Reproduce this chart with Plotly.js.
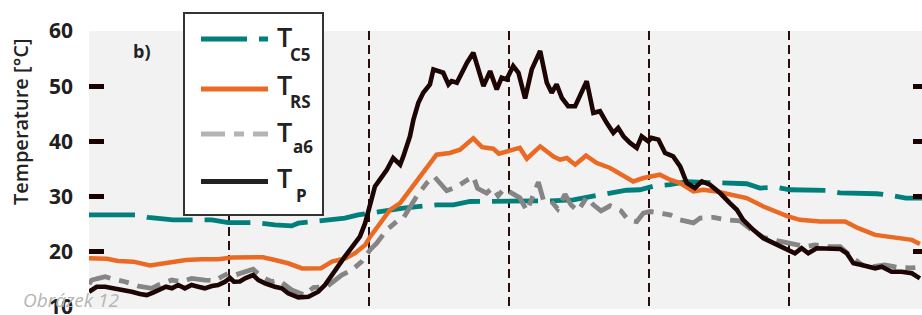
<!DOCTYPE html>
<html><head><meta charset="utf-8">
<script src="https://cdn.plot.ly/plotly-3.0.1.min.js"></script>
<style>html,body{margin:0;padding:0;background:#fff;overflow:hidden;}#chart{width:922px;height:315px;}</style>
</head><body><div id="chart"></div>
<script>
// time in hours, temperature in °C
const tpX = [0,0.22,0.46,0.69,0.93,1.22,1.46,1.65,1.83,2.03,2.2,2.37,2.55,2.74,2.93,3.12,3.31,3.51,3.69,3.89,4.03,4.14,4.31,4.46,4.69,4.84,5.03,5.31,5.51,5.69,5.98,6.27,6.55,6.74,7.03,7.31,7.6,7.74,7.89,8.03,8.17,8.31,8.51,8.69,8.89,8.98,9.17,9.27,9.41,9.55,9.74,9.84,9.98,10.12,10.27,10.36,10.51,10.69,10.8,10.98,11.09,11.27,11.46,11.65,11.79,11.93,12.12,12.27,12.46,12.65,12.89,13.08,13.22,13.36,13.51,13.69,13.89,14.03,14.22,14.41,14.6,14.79,14.98,15.12,15.27,15.46,15.65,15.79,15.98,16.07,16.27,16.46,16.69,16.89,17.08,17.31,17.51,17.74,18.03,18.31,18.51,18.69,18.98,19.27,19.65,19.93,20.17,20.36,20.55,20.79,21.08,21.46,21.65,21.84,22.08,22.27,22.46,22.65,22.93,23.22,23.51,23.74];
const tpY = [12.73,13.64,13.64,13.4,13.04,12.73,12.31,12.13,12.58,13.22,13.64,13.35,13.95,13.35,13.95,13.64,13.35,13.76,13.95,14.55,15.22,14.55,14.58,15.16,15.76,14.85,14.25,13.64,13.35,12.44,11.71,11.82,12.73,13.95,16.67,19.09,21.53,22.73,25.16,28.18,31.82,33.04,34.85,36.98,35.76,37.27,40.91,43.95,46.98,48.8,50.31,53.04,52.73,52.44,50.31,50.91,50.62,53.04,54.25,56.07,53.64,50.0,52.73,49.4,51.53,51.22,53.64,52.44,47.76,53.04,56.36,50.62,48.8,50.31,47.89,46.36,46.36,48.18,50.91,45.16,45.45,43.35,41.53,42.44,40.91,39.71,38.8,40.91,40.0,40.62,40.31,37.89,37.27,35.45,32.44,31.53,32.73,32.13,30.62,28.8,27.58,25.76,23.95,22.44,21.22,20.31,19.71,20.62,19.71,20.62,20.62,20.49,19.71,17.89,17.58,17.27,16.98,17.27,16.36,16.36,16.07,15.16];

const trsX = [0,0.51,0.83,1.27,1.74,2.03,2.37,2.77,3.23,3.69,4.09,4.97,5.31,5.69,6.09,6.63,6.94,7.34,7.6,7.89,8.03,8.31,8.6,8.89,9.17,9.46,9.74,9.93,10.31,10.6,10.98,11.23,11.55,11.71,12.12,12.31,12.51,12.89,13.27,13.46,13.65,13.89,14.2,14.51,14.89,15.27,15.55,15.84,16.12,16.31,16.6,16.89,17.27,17.55,17.93,18.31,18.79,19.27,19.93,20.31,20.89,21.6,21.98,22.46,23.03,23.51,23.74];
const trsY = [18.8,18.71,18.31,18.18,17.49,17.76,18.04,18.49,18.62,18.62,18.95,18.98,18.49,17.89,16.95,16.98,18.18,18.8,19.71,21.22,22.67,25.16,27.58,28.8,31.22,33.64,36.07,37.58,37.89,38.49,40.53,38.95,38.67,37.76,38.49,38.8,36.85,39.09,37.22,36.67,36.98,35.76,37.4,36.07,35.16,33.76,32.73,33.35,33.64,33.95,33.04,32.44,30.91,31.22,30.91,30.31,29.71,28.18,26.49,25.76,25.45,25.45,24.25,23.04,22.44,22.13,21.4];

const tc5X = [0,1.36,1.69,2.08,2.4,3.06,3.51,3.98,4.74,5.31,5.79,5.98,6.46,6.93,7.31,7.69,8.17,8.98,9.93,10.41,10.89,12.22,13.17,13.84,14.41,14.89,15.36,15.74,16.12,16.6,17.08,17.65,18.22,18.79,19.17,19.65,20.03,20.6,21.08,21.46,21.84,22.22,22.51,22.89,23.34,23.8];
const tc5Y = [26.67,26.67,26.22,25.95,25.76,25.76,25.76,25.27,25.27,24.85,24.67,25.16,25.45,25.76,26.07,26.67,27.13,27.89,28.49,28.49,29.09,29.09,29.22,29.4,29.95,30.62,31.13,31.22,31.85,32.13,32.67,32.55,32.49,32.31,31.53,31.67,31.22,31.09,31.09,30.67,30.62,30.73,30.49,30.22,29.71,29.71];

const ta6X = [0,0.08,0.27,0.46,0.69,1.03,1.41,1.79,1.98,2.36,2.65,2.93,3.31,3.6,3.79,3.98,4.17,4.46,4.69,4.93,5.22,5.41,5.79,6.17,6.41,6.79,7.22,7.51,7.79,8.03,8.22,8.51,8.79,8.98,9.17,9.36,9.65,9.86,10.22,10.54,10.74,10.98,11.1,11.36,11.53,11.69,11.86,12.12,12.31,12.51,12.65,12.84,12.98,13.17,13.39,13.6,13.77,13.97,14.22,14.41,14.63,14.89,15.2,15.4,15.65,15.84,16.03,16.31,16.6,16.89,17.27,17.46,17.84,18.22,18.6,18.89,19.27,19.69,20.12,20.49,20.74,21.12,21.46,21.77,22.09,22.4,22.74,23.11,23.46,23.8];
const ta6Y = [14.13,14.85,15.16,15.45,15.04,14.55,13.76,13.35,13.95,14.85,14.55,15.16,14.85,14.73,15.45,16.07,15.76,16.36,16.8,15.45,14.55,14.85,13.04,12.13,13.49,13.64,15.76,16.67,18.18,20.31,21.53,23.95,25.45,26.07,28.18,30.0,32.44,33.64,31.04,31.85,32.73,33.64,31.49,30.62,31.58,30.13,31.4,30.49,29.76,27.4,29.4,32.58,29.4,29.4,27.76,30.4,28.49,27.4,29.85,28.49,27.4,28.31,27.4,25.76,25.45,26.98,27.27,26.98,26.67,25.76,25.22,26.07,26.22,25.76,25.58,24.13,22.58,21.95,21.31,20.91,21.22,20.91,20.91,19.09,17.58,17.27,17.58,17.16,17.04,17.22];

const yTickVals = [10,20,30,40,50,60];
const yTickText = ['10','20','30','40','50','60'];
const yMarkVals = [20,30,40,50];
const xGridVals = [4,8,12,16,20];

const seriesMain = ['T','T','T','T'];
const seriesSub = ['C5','RS','a6','P'];

// colours & styles
const cTeal = '#007f7b', cOrange = '#ea6a24', cGrey = '#858585', cBlack = '#1c0503';
const dashTeal = '46px,12px', dashGrey = '24px,9px,10px,9px';
const yRange = [9.6, 60];

// teal & orange on main axis, grey on y2 (left tick marks), black on y3 (right tick marks)
const traces = [
  {x: tc5X, y: tc5Y, mode: 'lines', line: {color: cTeal, width: 4.8, dash: dashTeal}, name: 'T C5', yaxis: 'y'},
  {x: trsX, y: trsY, mode: 'lines', line: {color: cOrange, width: 4.5}, name: 'T RS', yaxis: 'y'},
  {x: ta6X, y: ta6Y, mode: 'lines', line: {color: cGrey, width: 4.8, dash: dashGrey}, name: 'T a6', yaxis: 'y2'},
  {x: tpX, y: tpY, mode: 'lines', line: {color: cBlack, width: 4.6}, name: 'T P', yaxis: 'y3'}
];

// pixel -> paper helpers (plot area: left 89, top 31, width 833, height 278)
const L = 89, T = 31, W = 833, H = 278;
const px = v => (v - L) / W;
const py = v => (T + H - v) / H;

const font = 'Open Sans, sans-serif';
const shapes = [];
const annotations = [];

// legend box
shapes.push({type: 'rect', xref: 'paper', yref: 'paper', x0: px(184), x1: px(323), y0: py(215), y1: py(13),
  fillcolor: '#ffffff', line: {color: '#333333', width: 2}, layer: 'above'});
const legLineY = [39, 89, 134, 181.5];
const legColors = [cTeal, cOrange, '#b4b4b4', '#222222'];
const legDash = [dashTeal, 'solid', dashGrey, 'solid'];
const legT = [36, 84, 131, 177.5];
const legS = [54, 102, 146.5, 195];
const legSx = [288, 288, 291, 294];
for (let i = 0; i < 4; i++) {
  shapes.push({type: 'line', xref: 'paper', yref: 'paper', x0: px(201), x1: px(268), y0: py(legLineY[i]), y1: py(legLineY[i]),
    line: {color: legColors[i], width: 5, dash: legDash[i]}, layer: 'above'});
  annotations.push({xref: 'paper', yref: 'paper', x: px(275), y: py(legT[i]), xanchor: 'left', yanchor: 'middle',
    text: seriesMain[i], showarrow: false, font: {family: font, size: 27, color: '#222222', weight: 600}});
  annotations.push({xref: 'paper', yref: 'paper', x: px(legSx[i]), y: py(legS[i]), xanchor: 'left', yanchor: 'middle',
    text: seriesSub[i], showarrow: false, font: {family: font, size: 17, color: '#222222', weight: 700}});
}

annotations.push({xref: 'paper', yref: 'paper', x: px(142), y: py(51), xanchor: 'center', yanchor: 'middle',
  text: 'b)', showarrow: false, font: {family: font, size: 18, color: '#222222', weight: 700}});
annotations.push({xref: 'paper', yref: 'paper', x: px(21), y: py(122), xanchor: 'center', yanchor: 'middle',
  text: 'Temperature [°C]', textangle: -90, showarrow: false, font: {family: font, size: 20, color: '#222222', weight: 600}});
annotations.push({xref: 'paper', yref: 'paper', x: px(71), y: py(300), xanchor: 'center', yanchor: 'middle',
  text: 'Obrázek 12', showarrow: false, font: {family: font, size: 19, color: '#b5b5b5', style: 'italic'}});

const layout = {
  width: 922, height: 315,
  margin: {l: L, r: 0, t: T, b: 315 - T - H, pad: 0},
  paper_bgcolor: '#ffffff', plot_bgcolor: '#f2f2f2',
  showlegend: false,
  xaxis: {range: [0, 23.8], tickmode: 'array', tickvals: xGridVals, showticklabels: false, ticks: '',
    showgrid: true, gridcolor: '#2a0c0c', gridwidth: 1.6, griddash: '9px,5px', zeroline: false, showline: false},
  yaxis: {range: yRange, tickmode: 'array', tickvals: yTickVals, ticktext: yTickText, ticks: '',
    showgrid: false, zeroline: false, showline: false, ticklabelstandoff: 15, ticklabeloverflow: 'allow',
    tickfont: {family: font, size: 21, color: '#231f20', weight: 700}},
  yaxis2: {overlaying: 'y', side: 'left', anchor: 'x', range: yRange, tickmode: 'array', tickvals: yMarkVals,
    ticks: 'inside', ticklen: 15, tickwidth: 5, tickcolor: '#1a0000', showticklabels: false, showgrid: false, zeroline: false, showline: false},
  yaxis3: {overlaying: 'y', side: 'right', anchor: 'x', range: yRange, tickmode: 'array', tickvals: yMarkVals,
    ticks: 'inside', ticklen: 9, tickwidth: 5, tickcolor: '#1a0000', showticklabels: false, showgrid: false, zeroline: false, showline: false},
  shapes: shapes,
  annotations: annotations
};

Plotly.newPlot('chart', traces, layout, {staticPlot: true, displayModeBar: false});
</script>
</body></html>
